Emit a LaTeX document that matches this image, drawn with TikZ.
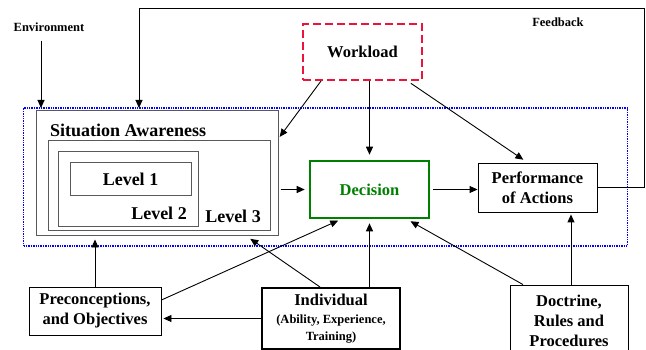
\documentclass[tikz,border=0pt]{standalone}
\usepackage{fontspec}
\setmainfont{Liberation Serif}
\usetikzlibrary{arrows.meta}

\definecolor{wlred}{RGB}{235,20,60}
\definecolor{decgreen}{RGB}{0,128,0}
\definecolor{loopblue}{RGB}{0,0,255}

\begin{document}
\begin{tikzpicture}[x=1pt,y=-1pt]
\tikzstyle{every node}=[inner sep=0pt,font=\bfseries\fontsize{16.5}{20}\selectfont]
\tikzstyle{box}=[draw,line width=0.9pt,align=center]
\tikzstyle{levelbox}=[draw=black!65,line width=1pt]
\tikzstyle{arr}=[line width=0.9pt,-{Triangle[length=8pt,width=7pt]}]
\tikzstyle{smalltext}=[font=\bfseries\fontsize{12.5}{15}\selectfont]

\useasboundingbox[fill=white] (0,0) rectangle (646,350);

% dotted loop round the decision process
\node[draw=loopblue,line width=1.6pt,dash pattern=on 1.4pt off 1pt,
  minimum width=604pt,minimum height=138pt] (loop) at (325.5,177) {};

% situation awareness boxes
\node[levelbox,minimum width=242pt,minimum height=125pt] (sa) at (157,173.5) {};
\node[anchor=west,font=\bfseries\fontsize{18}{21}\selectfont] (satxt) at (50,130) {Situation Awareness};
\node[levelbox,minimum width=222pt,minimum height=90pt] (lvl3) at (159,186) {};
\node[levelbox,minimum width=140pt,minimum height=75pt] (lvl2) at (128,189.5) {};
\node[levelbox,minimum width=121pt,minimum height=33pt,
  font=\bfseries\fontsize{18}{21}\selectfont] (lvl1) at (130.5,179.5) {Level 1};
\node[font=\bfseries\fontsize{18}{21}\selectfont] (lvl2txt) at (159,213) {Level 2};
\node[font=\bfseries\fontsize{18}{21}\selectfont] (lvl3txt) at (233,216) {Level 3};

% main nodes
\node[draw=wlred,line width=2pt,dash pattern=on 8pt off 4pt,
  minimum width=119pt,minimum height=56pt] (workload) at (362.5,52) {Workload};
\node[draw=decgreen,line width=2.6pt,text=decgreen,
  minimum width=119pt,minimum height=57pt] (decision) at (369.5,189.5) {Decision};
\node[box,minimum width=119pt,minimum height=49pt] (perf) at (537.5,187.5) {Performance\\of Actions};
\node[box,minimum width=132pt,minimum height=48pt] (precon) at (95,311) {Preconceptions,\\and Objectives};
\node[box,line width=2pt,minimum width=138pt,minimum height=61pt] (indiv) at (331,318.5)
  {Individual\\[-2pt]{\bfseries\fontsize{12.5}{16}\selectfont (Ability, Experience,}\\[-3pt]{\bfseries\fontsize{12.5}{16}\selectfont Training)}};
\node[box,minimum width=118pt,minimum height=72pt] (doctrine) at (569,321) {Doctrine,\\Rules and\\Procedures};

\node[smalltext] (env) at (49,27) {Environment};
\node[smalltext] (fb) at (558,22) {Feedback};

\coordinate (envend) at (41,108);
\coordinate (fbtop) at (644,8);
\coordinate (fbend) at (139,108);

% connectors
\draw[arr,shorten <=9pt] (env.south -| envend) -- (envend);
\draw[arr] (perf.east) -| (fbtop) -| (fbend);
\draw[arr,shorten >=5pt] (workload.south -| decision.north) -- (decision.north);
\draw[arr,shorten <=4pt,shorten >=5pt] ([xshift=45pt]workload.south) -- ([xshift=-10pt]perf.north);
\draw[arr,shorten >=2pt] ([xshift=19pt]workload.south west) -- ([yshift=-28pt]sa.north east);
\draw[arr,shorten <=2pt,shorten >=4pt] (sa.east |- decision.west) -- (decision.west);
\draw[arr,shorten <=3pt] (decision.east) -- (decision.east -| perf.west);
\draw[arr,shorten >=3pt] (precon.north) -- (precon.north |- sa.south);
\draw[arr,shorten >=3pt] ([yshift=11pt]precon.east) -- ([xshift=-28.5pt]decision.south);
\draw[arr,shorten >=2pt] (indiv.west) -- (indiv.west -| precon.east);
\draw[arr,shorten >=4pt] ([xshift=-11pt]indiv.north) -- ([xshift=90pt]sa.south);
\draw[arr,shorten >=4pt] (indiv.north -| decision.south) -- (decision.south);
\draw[arr,shorten >=4pt] ([xshift=-46pt]doctrine.north) -- ([xshift=37.5pt]decision.south);
\draw[arr,shorten >=2pt] ([xshift=2pt]doctrine.north) -- ([xshift=2pt]doctrine.north |- perf.south);
\end{tikzpicture}
\end{document}
